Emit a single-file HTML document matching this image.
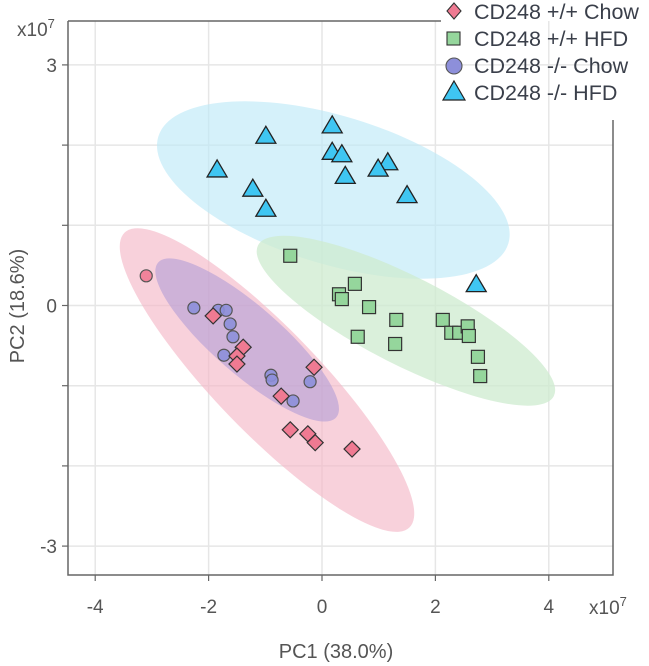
<!DOCTYPE html>
<html><head><meta charset="utf-8"><style>
body{margin:0;background:#fff}
svg{display:block;font-family:"Liberation Sans",sans-serif}
</style></head><body>
<svg id="c" width="649" height="666"></svg>
<script>
const xTicks=[-4,-2,0,2,4];
const yTicks=[-3,-2,-1,0,1,2,3];
const yTickLabels={"-3":"-3","0":"0","3":"3"};
const wtChowX=[-1.92,-1.39,-1.50,-1.50,-0.72,-0.14,-0.56,-0.25,-0.12,0.53];
const wtChowY=[-0.13,-0.52,-0.63,-0.73,-1.13,-0.77,-1.55,-1.60,-1.71,-1.79];
const wtHfdX=[-0.56,0.30,0.35,0.58,0.83,0.63,1.31,1.29,2.13,2.28,2.42,2.57,2.59,2.75,2.79];
const wtHfdY=[0.62,0.14,0.08,0.27,-0.02,-0.39,-0.18,-0.48,-0.18,-0.34,-0.34,-0.26,-0.38,-0.64,-0.88];
const koChowX=[-2.26,-1.83,-1.69,-1.62,-1.57,-1.73,-0.90,-0.88,-0.51,-0.21];
const koChowY=[-0.03,-0.06,-0.06,-0.23,-0.39,-0.62,-0.87,-0.93,-1.19,-0.95];
const koHfdX=[-1.85,-0.99,-1.22,-0.99,0.18,0.18,0.35,0.41,1.16,0.99,1.50,2.72];
const koHfdY=[1.69,2.11,1.45,1.20,2.24,1.91,1.88,1.61,1.78,1.70,1.37,0.26];
const outlierX=[-3.10];
const outlierY=[0.37];
const ellCx=[0.20,1.48,-0.97,-1.32];
const ellCy=[1.44,-0.19,-0.93,-0.43];
const ellRx=[183,166,205,118];
const ellRy=[74,44,52,34];
const ellAng=[17,27,46,41];
const ellFill=["#bfeaf7","#cdebcf","#f5b9c7","#b39cd6"];
const ellOp=[0.65,0.75,0.65,0.6];
const ellNames=["ellipse-ko-hfd","ellipse-wt-hfd","ellipse-wt-chow","ellipse-ko-chow"];

const NS="http://www.w3.org/2000/svg";
const svg=document.getElementById('c');
const X=v=>322+v*56.7, Y=v=>305.5-v*80.2;
function mk(t,a,p){const e=document.createElementNS(NS,t);for(const k in a)e.setAttribute(k,a[k]);(p||svg).appendChild(e);return e;}
const L=68,R=613,T=21,B=575;
xTicks.forEach(v=>{const g=mk('line',{x1:X(v),x2:X(v),y1:T,y2:B,stroke:'#e6e6e6','stroke-width':1.5});

});
yTicks.forEach(v=>{const g=mk('line',{x1:L,x2:R,y1:Y(v),y2:Y(v),stroke:'#e6e6e6','stroke-width':1.5});

});
for(let i=0;i<ellCx.length;i++){const e=mk('ellipse',{cx:X(ellCx[i]),cy:Y(ellCy[i]),rx:ellRx[i],ry:ellRy[i],fill:ellFill[i],'fill-opacity':ellOp[i],transform:`rotate(${ellAng[i]} ${X(ellCx[i])} ${Y(ellCy[i])})`});

}
const fr=mk('path',{d:`M${L} ${T}H441M${L} ${T}V${B}H${R}V120`,fill:'none',stroke:'#666','stroke-width':1.5});


xTicks.forEach(v=>{mk('line',{x1:X(v),x2:X(v),y1:B,y2:B+6,stroke:'#666','stroke-width':1.2});
const t=mk('text',{x:X(v),y:613,'text-anchor':'middle','font-size':19,fill:'#555'});t.textContent=v;

});
yTicks.forEach(v=>{mk('line',{x1:L-6,x2:L,y1:Y(v),y2:Y(v),stroke:'#666','stroke-width':1.2});
if(yTickLabels[v]!==undefined){const t=mk('text',{x:57,y:Y(v)+7,'text-anchor':'end','font-size':19,fill:'#555'});t.textContent=yTickLabels[v];

}});
function diamond(x,y,p){return mk('path',{d:`M${x} ${y-8}L${x+8} ${y}L${x} ${y+8}L${x-8} ${y}Z`,fill:'#ef7a92',stroke:'#333','stroke-width':1.2},p);}
function square(x,y,p){return mk('rect',{x:x-6.5,y:y-6.5,width:13,height:13,fill:'#95d69c',stroke:'#333','stroke-width':1.2},p);}
function circ(x,y,p,f){return mk('circle',{cx:x,cy:y,r:6,fill:f||'#8d8fda',stroke:'#555','stroke-width':1.2,'fill-opacity':0.9},p);}
function tri(x,y,p){return mk('path',{d:`M${x} ${y-10}L${x+10} ${y+7}L${x-10} ${y+7}Z`,fill:'#3fc6f2',stroke:'#222','stroke-width':1.3},p);}
outlierX.forEach((v,i)=>{const e=circ(X(v),Y(outlierY[i]),svg,'#ef7a92');

});
koChowX.forEach((v,i)=>{const e=circ(X(v),Y(koChowY[i]));

});
wtChowX.forEach((v,i)=>{const e=diamond(X(v),Y(wtChowY[i]));

});
wtHfdX.forEach((v,i)=>{const e=square(X(v),Y(wtHfdY[i]));

});
koHfdX.forEach((v,i)=>{const e=tri(X(v),Y(koHfdY[i]));

});
</script>
<svg style="position:absolute;left:0;top:0" width="649" height="666">
<g font-family="Liberation Sans, sans-serif" fill="#555">
<text x="17" y="36" font-size="19">x10<tspan font-size="13" dy="-8">7</tspan></text>
<text x="589" y="614" font-size="19">x10<tspan font-size="13" dy="-8">7</tspan></text>
<text x="336" y="658" font-size="20" text-anchor="middle">PC1 (38.0%)</text>
<text transform="translate(24 306) rotate(-90)" font-size="20" text-anchor="middle">PC2 (18.6%)</text>
</g>
<g font-family="Liberation Sans, sans-serif" font-size="21.5" fill="#3a3f4a">
<g><path d="M454 3L461 11L454 19L447 11Z" fill="#ef7a92" stroke="#333" stroke-width="1.1"/><text x="474" y="19">CD248 +/+ Chow</text></g>
<g><rect x="447" y="32" width="13" height="13" fill="#95d69c" stroke="#333" stroke-width="1.1"/><text x="474" y="46">CD248 +/+ HFD</text></g>
<g><circle cx="454" cy="66" r="8" fill="#8d8fda" stroke="#555" stroke-width="1.1"/><text x="474" y="73">CD248 -/- Chow</text></g>
<g><path d="M454 81L465 100L443 100Z" fill="#3fc6f2" stroke="#222" stroke-width="1.2"/><text x="474" y="100">CD248 -/- HFD</text></g>
</g>
</svg>
</body></html>
